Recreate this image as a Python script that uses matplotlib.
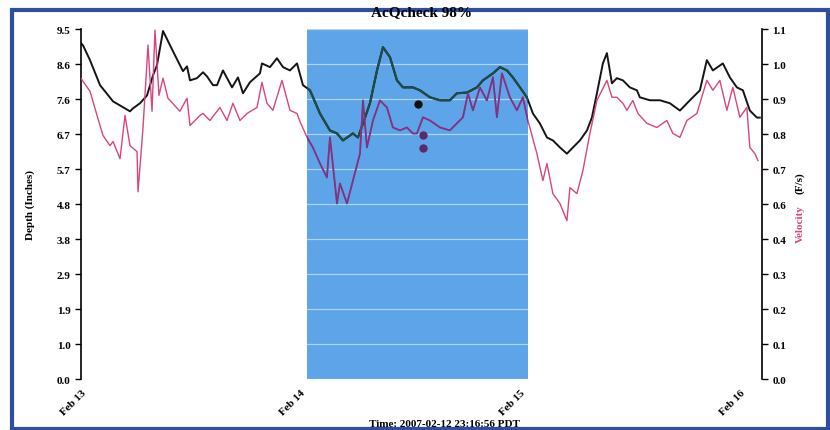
import matplotlib
matplotlib.use("Agg")
import matplotlib.pyplot as plt
from matplotlib.patches import Rectangle

plt.rcParams['font.family'] = ['Liberation Serif', 'DejaVu Serif']
plt.rcParams['font.weight'] = 'bold'

# hours since Feb 13 00:00
depth_hours = [0, 0.22, 0.98, 2.08, 3.50, 5.35, 5.68, 6.45, 7.21, 7.87, 8.30, 8.96, 10.05,
               11.14, 11.58, 11.91, 12.67, 13.33, 13.76, 14.42, 14.86, 15.51, 16.50, 17.15,
               17.70, 18.46, 19.55, 19.77, 20.65, 21.41, 22.07, 22.83, 23.60, 24.25, 25.02,
               26.11, 27.20, 27.97, 28.62, 29.71, 30.26, 30.81, 31.57, 32.34, 32.99, 33.76,
               34.52, 35.18, 36.27, 37.03, 38.13, 39.22, 40.31, 41.07, 42.17, 43.26, 43.91,
               45.01, 45.77, 46.54, 47.19, 47.96, 48.72, 49.38, 50.14, 50.91, 51.56, 52.33,
               53.09, 53.75, 54.51, 55.28, 55.82, 56.37, 57.02, 57.46, 58.01, 58.55, 59.21,
               59.97, 60.74, 61.06, 62.16, 63.25, 64.34, 65.44, 66.53, 67.62, 68.38, 69.04,
               70.13, 70.90, 71.66, 72.32, 73.08, 73.85, 74.17]
depth = [9.12, 9.06, 8.66, 7.98, 7.54, 7.27, 7.35, 7.49, 7.70, 8.25, 8.52, 9.45, 8.90,
         8.36, 8.49, 8.11, 8.17, 8.33, 8.22, 7.98, 7.98, 8.38, 7.92, 8.19,
         7.76, 8.06, 8.30, 8.57, 8.47, 8.71, 8.47, 8.38, 8.57, 7.98, 7.84,
         7.21, 6.75, 6.67, 6.48, 6.67, 6.56, 6.94, 7.49, 8.38, 9.01, 8.74,
         8.11, 7.92, 7.92, 7.84, 7.65, 7.57, 7.57, 7.76, 7.78, 7.92, 8.11,
         8.30, 8.47, 8.38, 8.19, 7.92, 7.65, 7.21, 6.94, 6.56, 6.48, 6.29,
         6.12, 6.29, 6.48, 6.75, 7.10, 7.76, 8.57, 8.85, 8.03, 8.17, 8.11,
         7.92, 7.84, 7.65, 7.57, 7.57, 7.49, 7.29, 7.57, 7.84, 8.66, 8.38,
         8.57, 8.19, 7.92, 7.84, 7.29, 7.10, 7.10]

vel_hours = [0, 0.22, 0.98, 1.75, 2.40, 3.17, 3.50, 4.26, 4.81, 5.35, 6.12, 6.23, 6.77,
             7.32, 7.76, 8.08, 8.52, 8.96, 9.50, 10.81, 11.58, 11.91, 13.00, 13.33, 14.09,
             15.18, 15.95, 16.60, 17.37, 18.13, 19.23, 19.77, 20.32, 20.97, 21.96, 22.83,
             23.60, 23.92, 24.69, 25.34, 26.11, 26.87, 27.20, 27.97, 28.29, 29.06, 29.71,
             30.48, 30.81, 31.24, 31.90, 32.66, 33.43, 34.08, 34.85, 35.61, 36.27, 36.70,
             37.36, 38.13, 39.22, 40.31, 41.07, 41.73, 42.28, 42.82, 43.59, 44.35, 45.01,
             45.44, 45.99, 46.86, 47.63, 48.28, 48.83, 49.81, 50.47, 50.91, 51.56, 52.33,
             53.09, 53.42, 54.18, 54.84, 55.60, 56.37, 57.46, 58.01, 58.55, 59.21, 59.64,
             60.30, 60.85, 61.83, 62.92, 64.01, 64.67, 65.44, 66.20, 67.29, 68.38, 69.04,
             69.80, 70.57, 71.22, 71.99, 72.75, 73.08, 73.63, 73.96]
velocity = [0.946, 0.936, 0.905, 0.829, 0.766, 0.734, 0.747, 0.693, 0.829, 0.734, 0.715, 0.589, 0.788,
            1.050, 0.842, 1.097, 0.892, 0.946, 0.883, 0.842, 0.883, 0.797, 0.829, 0.835, 0.813,
            0.854, 0.813, 0.867, 0.813, 0.835, 0.854, 0.933, 0.867, 0.845, 0.939, 0.845,
            0.835, 0.810, 0.760, 0.728, 0.678, 0.634, 0.760, 0.552, 0.615, 0.552, 0.624,
            0.709, 0.876, 0.728, 0.813, 0.876, 0.854, 0.791, 0.782, 0.791, 0.772, 0.772,
            0.823, 0.813, 0.791, 0.782, 0.804, 0.823, 0.898, 0.845, 0.917, 0.876, 0.949,
            0.823, 0.961, 0.886, 0.845, 0.886, 0.813, 0.709, 0.624, 0.678, 0.583, 0.552,
            0.498, 0.602, 0.583, 0.656, 0.772, 0.876, 0.939, 0.886, 0.886, 0.867, 0.845,
            0.876, 0.835, 0.804, 0.791, 0.813, 0.772, 0.760, 0.813, 0.835, 0.939, 0.908,
            0.939, 0.845, 0.917, 0.823, 0.854, 0.728, 0.709, 0.687]

# flagged samples (dots)
depth_dot_hours = [36.81]
depth_dots = [7.46]
vel_dot_hours = [37.36, 37.36]
vel_dots = [0.766, 0.725]

shade_start, shade_end = 24.69, 48.83

depth_ticks = [0, 0.95, 1.9, 2.85, 3.8, 4.75, 5.7, 6.65, 7.6, 8.55, 9.5]
depth_labels = ["0.0", "1.0", "1.9", "2.9", "3.8", "4.8", "5.7", "6.7", "7.6", "8.6", "9.5"]
vel_ticks = [0, 0.11, 0.22, 0.33, 0.44, 0.55, 0.66, 0.77, 0.88, 0.99, 1.1]
vel_labels = ["0.0", "0.1", "0.2", "0.3", "0.4", "0.6", "0.7", "0.8", "0.9", "1.0", "1.1"]
day_ticks = [0, 24, 48, 72]
day_labels = ["Feb 13", "Feb 14", "Feb 15", "Feb 16"]

fig = plt.figure(figsize=(8.3, 4.31), dpi=100)
ax = fig.add_axes([0.0976, 0.118, 0.8204, 0.812])
ax2 = ax.twinx()

span = ax.axvspan(shade_start, shade_end, color='#5DA5E8', zorder=1, lw=0)
ax.grid(axis='y', color='white', lw=0.9, alpha=0.5)

ax.plot(depth_hours, depth, color='#151515', lw=1.4, zorder=2)
dl, = ax.plot(depth_hours, depth, color='#1f4a45', lw=1.6, zorder=3)
dl.set_clip_path(span)
ax.plot(depth_dot_hours, depth_dots, 'o', color='#111111', ms=5, zorder=4)

ax2.plot(vel_hours, velocity, color='#d8457f', lw=1.0, zorder=2)
vl, = ax2.plot(vel_hours, velocity, color='#7a3585', lw=1.3, zorder=3)
vl.set_clip_path(span)
ax2.plot(vel_dot_hours, vel_dots, 'o', color='#5a2a6a', ms=5, zorder=4)

ax.set_xlim(0, 74.4)
ax.set_ylim(0, 9.5)
ax2.set_ylim(0, 1.1)

ax.set_yticks(depth_ticks)
ax.set_yticklabels(depth_labels, fontsize=8, fontweight='bold')
ax2.set_yticks(vel_ticks)
ax2.set_yticklabels(vel_labels, fontsize=8, fontweight='bold')
ax.set_xticks(day_ticks)
ax.set_xticklabels(day_labels, fontsize=8, fontweight='bold', rotation=45,
                   ha='right', rotation_mode='anchor')
ax.tick_params(axis='x', length=0, pad=6)
ax.tick_params(axis='y', length=4, width=1)
ax2.tick_params(axis='y', length=4, width=1)

for a in (ax, ax2):
    a.spines['top'].set_visible(False)
    a.spines['bottom'].set_visible(False)
ax.spines['right'].set_visible(False)
ax2.spines['left'].set_visible(False)
ax.spines['left'].set_linewidth(1.2)
ax2.spines['right'].set_linewidth(1.2)

fig.text(0.508, 0.97, "AcQcheck 98%", ha='center', va='center', fontsize=11, fontweight='bold')
fig.text(0.036, 0.524, "Depth (Inches)", rotation=90, ha='center', va='center', fontsize=8, fontweight='bold')
fig.text(0.964, 0.48, "Velocity", rotation=90, ha='center', va='center', fontsize=8,
         fontweight='bold', color='#d8457f')
fig.text(0.964, 0.575, "(F/s)", rotation=90, ha='center', va='center', fontsize=8, fontweight='bold')
fig.text(0.535, 0.016, "Time: 2007-02-12 23:16:56 PDT", ha='center', va='center', fontsize=8, fontweight='bold')

# scanned page frame
fig.patches.append(Rectangle((0.015, 0.003), 0.982, 0.971, transform=fig.transFigure,
                             fill=False, edgecolor='#2e4f9e', lw=3))

fig.savefig("out.png", dpi=100)
